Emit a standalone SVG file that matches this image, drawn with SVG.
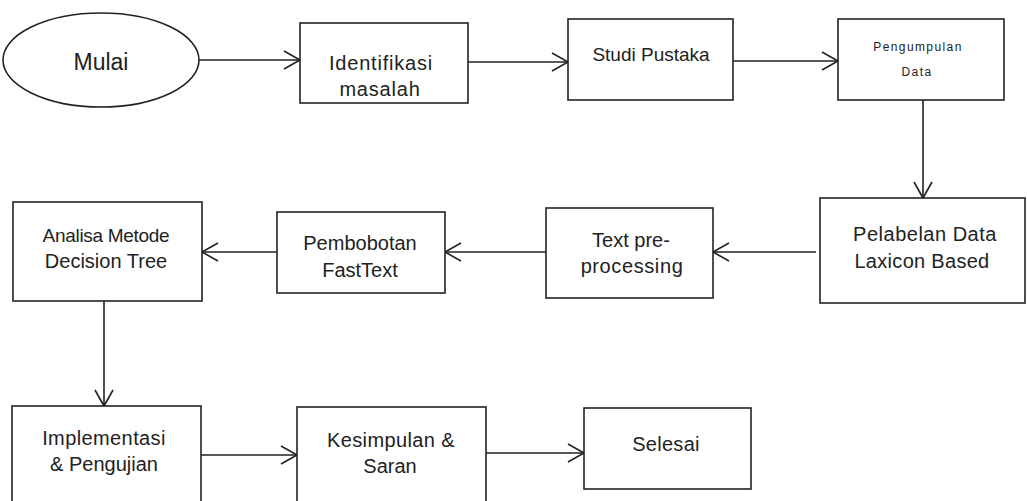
<svg xmlns="http://www.w3.org/2000/svg" width="1027" height="501" viewBox="0 0 1027 501">
<style>
.box{fill:#fff;stroke:#222;stroke-width:1.6}
.t{font-family:"Liberation Sans",Arial,sans-serif;font-size:20px;fill:#222;text-anchor:middle}
.small{font-size:12px;letter-spacing:1.4px}
.edge{fill:none;stroke:#222;stroke-width:1.6;marker-end:url(#arr)}
</style>
<defs>
<marker id="arr" markerUnits="userSpaceOnUse" markerWidth="20" markerHeight="22" refX="17" refY="11" orient="auto">
<path d="M1,2 L17,11 L1,20" fill="none" stroke="#222" stroke-width="1.6"/>
</marker>
</defs>
<rect width="1027" height="501" fill="#fff"/>
<g id="connectors">
<line class="edge" x1="199" y1="60" x2="300" y2="60"/>
<line class="edge" x1="468" y1="62" x2="568" y2="62"/>
<line class="edge" x1="733" y1="61" x2="838" y2="61"/>
<line class="edge" x1="923" y1="97" x2="923" y2="198"/>
<line class="edge" x1="816" y1="252" x2="713" y2="252"/>
<line class="edge" x1="546" y1="252" x2="445" y2="252"/>
<line class="edge" x1="277" y1="252" x2="202" y2="252"/>
<line class="edge" x1="104" y1="301" x2="104" y2="406"/>
<line class="edge" x1="200" y1="455" x2="297" y2="455"/>
<line class="edge" x1="486" y1="453" x2="584" y2="453"/>
</g>
<g id="mulai">
<ellipse class="box" cx="101" cy="60" rx="98" ry="47"/>
<text class="t" x="101" y="70" style="font-size:23px">Mulai</text>
</g>
<g id="identifikasi">
<rect class="box" x="300" y="23" width="168" height="80"/>
<text class="t" x="381" y="70" style="letter-spacing:0.8px">Identifikasi</text>
<text class="t" x="380" y="96" style="letter-spacing:0.8px">masalah</text>
</g>
<g id="studi">
<rect class="box" x="568" y="19" width="165" height="81"/>
<text class="t" x="651" y="61" style="font-size:19px">Studi Pustaka</text>
</g>
<g id="pengumpulan">
<rect class="box" x="838" y="19" width="166" height="81"/>
<text class="t small" x="918" y="51">Pengumpulan</text>
<text class="t small" x="917" y="76">Data</text>
</g>
<g id="pelabelan">
<rect class="box" x="820" y="198" width="205" height="105"/>
<text class="t" x="925" y="241" style="letter-spacing:0.5px">Pelabelan Data</text>
<text class="t" x="922" y="268" style="letter-spacing:0.3px">Laxicon Based</text>
</g>
<g id="textpre">
<rect class="box" x="546" y="208" width="167" height="90"/>
<text class="t" x="631" y="247">Text pre-</text>
<text class="t" x="632" y="273" style="letter-spacing:0.6px">processing</text>
</g>
<g id="pembobotan">
<rect class="box" x="277" y="212" width="168" height="81"/>
<text class="t" x="360" y="250">Pembobotan</text>
<text class="t" x="360" y="277">FastText</text>
</g>
<g id="analisa">
<rect class="box" x="13" y="202" width="189" height="99"/>
<text class="t" x="106" y="242" style="font-size:19px;letter-spacing:-0.3px">Analisa Metode</text>
<text class="t" x="106" y="268">Decision Tree</text>
</g>
<g id="implementasi">
<rect class="box" x="12" y="406" width="189" height="100"/>
<text class="t" x="104" y="445" style="letter-spacing:0.4px">Implementasi</text>
<text class="t" x="104" y="471">&amp; Pengujian</text>
</g>
<g id="kesimpulan">
<rect class="box" x="297" y="407" width="189" height="100"/>
<text class="t" x="391" y="447" style="letter-spacing:0.4px">Kesimpulan &amp;</text>
<text class="t" x="390" y="473">Saran</text>
</g>
<g id="selesai">
<rect class="box" x="584" y="408" width="167" height="81"/>
<text class="t" x="666" y="451" style="letter-spacing:0.3px">Selesai</text>
</g>
</svg>
